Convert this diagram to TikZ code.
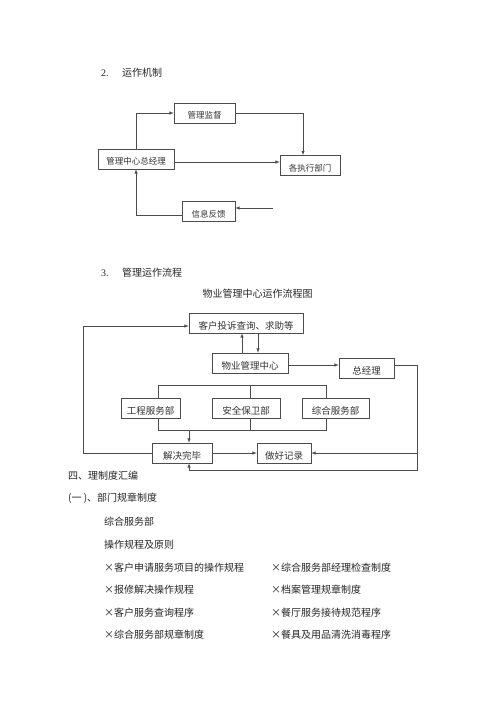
\documentclass[tikz,border=0pt]{standalone}
\usepackage{fontspec}
\setmainfont{Liberation Serif}
\newfontfamily\cjk{Noto Sans CJK SC}
\usetikzlibrary{arrows}

\tikzset{
  box/.style={draw=black!70, line width=.5pt, inner sep=0pt, minimum height=20pt, text height=12pt, text depth=0pt, text=black!80},
  boxa/.style={box, font=\cjk\fontsize{8.5}{9}\selectfont},
  boxb/.style={box, font=\cjk\fontsize{9.5}{10}\selectfont},
  txt/.style={anchor=west, inner sep=0pt, text=black!85, font=\cjk\fontsize{10}{12}\selectfont},
  num/.style={anchor=west, inner sep=0pt, text=black!85, font=\rmfamily\fontsize{10}{12}\selectfont},
  wire/.style={draw=black!70, line width=.5pt},
  link/.style={wire, -latex}
}

\begin{document}
\begin{tikzpicture}[x=1pt,y=-1pt]
\fill[white] (0,0) rectangle (500,708);
\useasboundingbox (0,0) rectangle (500,708);

\node[num] (n2) at (101,73) {2.};
\node[txt] (t2) at (122,73) {运作机制};

\node[boxa, minimum width=61pt] (jiandu) at (204.5,113) {管理监督};
\node[boxa, minimum width=76pt] (zjl) at (136,159) {管理中心总经理};
\node[boxa, minimum width=60pt] (zhixing) at (310,165.5) {各执行部门};
\node[boxa, minimum width=53pt] (fankui) at (208.5,211.5) {信息反馈};
\coordinate (fkin) at (273,208);

\draw[link] (zjl.north) |- (jiandu.west);
\draw[link] (jiandu.east) -| ([xshift=-7pt]zhixing.north);
\draw[link] ([yshift=-3pt]zjl.east) -- ([yshift=-3pt]zjl.east -| zhixing.west);
\draw[link] (fkin) -- (fkin -| fankui.east);
\draw[link] ([yshift=-3.5pt]fankui.west) -| (zjl.south);

\node[num] (n3) at (101,273) {3.};
\node[txt] (t3) at (122,273) {管理运作流程};
\node[txt, anchor=center] (title) at (257.5,294) {物业管理中心运作流程图};

\node[boxb, minimum width=114pt] (kehu) at (246,323) {客户投诉查询、求助等};
\node[boxb, minimum width=76pt] (wuye) at (250,363) {物业管理中心};
\node[boxb, minimum width=55pt] (zong) at (366.5,368) {总经理};
\node[boxb, minimum width=59pt] (gongcheng) at (150.5,408) {工程服务部};
\node[boxb, minimum width=68pt] (anquan) at (246,408) {安全保卫部};
\node[boxb, minimum width=67pt] (zonghe) at (335.5,408) {综合服务部};
\node[boxb, minimum width=60pt] (jiejue) at (182,453) {解决完毕};
\node[boxb, minimum width=54pt] (jilu) at (284,453) {做好记录};
\coordinate (top) at (0,385);
\coordinate (bot) at (0,430);
\coordinate (low) at (0,470);
\coordinate (rt) at (417,0);
\coordinate (lt) at (83,0);

\draw[link] ([xshift=-8pt]wuye.north) -- ([xshift=-8pt]wuye.north |- kehu.south);
\draw[link] ([xshift=8pt]wuye.north |- kehu.south) -- ([xshift=8pt]wuye.north);
\draw[link] ([yshift=-2pt]wuye.east) -- ([yshift=-2pt]wuye.east -| zong.west);
\draw[link] ([yshift=3pt]zong.east) -| (rt |- low) -| ([xshift=7pt]jiejue.south);
\draw[link] (rt |- jilu.east) -- (jilu.east);
\draw[link] (jiejue.east) -- (jilu.west);
\draw[link] (jiejue.west) -| ([yshift=-3pt]lt |- kehu.west) -- ([yshift=-3pt]kehu.west);

\draw[wire] ([xshift=7.5pt]gongcheng.north) |- ([xshift=-9.5pt]zonghe.north |- top) -- ([xshift=-9.5pt]zonghe.north);
\draw[wire] ([xshift=4pt]anquan.north) -- ([xshift=4pt]anquan.north |- top);
\draw[wire] ([xshift=7.5pt]gongcheng.south) |- ([xshift=-9.5pt]zonghe.south |- bot) -- ([xshift=-9.5pt]zonghe.south);
\draw[wire] ([xshift=4pt]anquan.south) -- ([xshift=4pt]anquan.south |- bot);
\draw[link] ([xshift=7pt]jiejue.north |- bot) -- ([xshift=7pt]jiejue.north);

\node[txt] (h4) at (68,476) {四、理制度汇编};
\node[txt] (h41) at (68,498) {(一 )、部门规章制度};
\node[txt] (zh) at (104,522) {综合服务部};
\node[txt] (cz) at (104,545) {操作规程及原则};
\node[txt] (a1) at (104,568) {×客户申请服务项目的操作规程};
\node[txt] (b1) at (271,568) {×综合服务部经理检查制度};
\node[txt] (a2) at (104,590) {×报修解决操作规程};
\node[txt] (b2) at (271,590) {×档案管理规章制度};
\node[txt] (a3) at (104,613) {×客户服务查询程序};
\node[txt] (b3) at (271,613) {×餐厅服务接待规范程序};
\node[txt] (a4) at (104,635) {×综合服务部规章制度};
\node[txt] (b4) at (271,635) {×餐具及用品清洗消毒程序};

\end{tikzpicture}
\end{document}
